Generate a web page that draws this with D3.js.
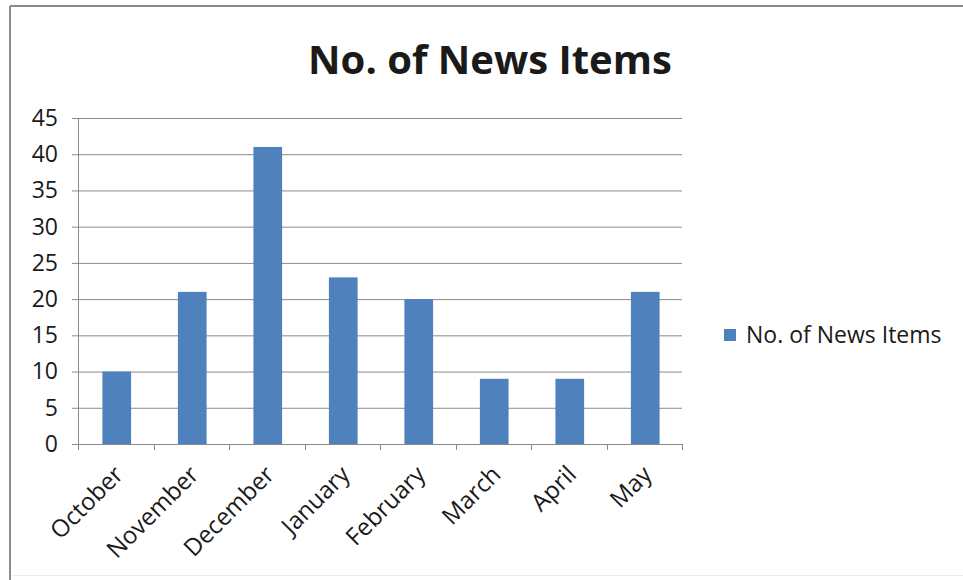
<!DOCTYPE html>
<html>
<head>
<meta charset="utf-8">
<script src="https://cdn.jsdelivr.net/npm/d3@7/dist/d3.min.js"></script>
<style>
  html, body { margin: 0; padding: 0; background: #fff; }
  svg { display: block; }
  text { font-family: "Open Sans", "Liberation Sans", sans-serif; fill: #1a1a1a; }
</style>
</head>
<body>
<svg id="chart" width="963" height="580"></svg>
<script>
// Monthly counts of news items
const months = ["October", "November", "December", "January", "February", "March", "April", "May"];
const newsItems = [10, 21, 41, 23, 20, 9, 9, 21];
const yTicks = [0, 5, 10, 15, 20, 25, 30, 35, 40, 45];
const seriesName = "No. of News Items";
const chartTitle = "No. of News Items";

const W = 963, H = 580;
const plot = { left: 78, right: 682, top: 118, bottom: 444 };
const barColor = "#4F81BD";
const gridColor = "#8a8a8a";

const svg = d3.select("#chart");

// chart frame
svg.append("rect").attr("x", 0).attr("y", 0).attr("width", W).attr("height", H).attr("fill", "#fff");
svg.append("line").attr("x1", 10).attr("x2", 10).attr("y1", 6).attr("y2", H)
  .attr("stroke", "#8c8c8c").attr("stroke-width", 2);
svg.append("line").attr("x1", 10).attr("x2", W).attr("y1", 6).attr("y2", 6)
  .attr("stroke", "#8c8c8c").attr("stroke-width", 2);
svg.append("line").attr("x1", 11).attr("x2", W).attr("y1", 575.5).attr("y2", 575.5)
  .attr("stroke", "#ececec").attr("stroke-width", 1);

const x = d3.scaleBand()
  .domain(months)
  .range([plot.left, plot.right])
  .paddingInner(0.62)
  .paddingOuter(0.31);

const y = d3.scaleLinear()
  .domain([0, 45])
  .range([plot.bottom, plot.top]);

// horizontal gridlines with the y axis
const yAxis = d3.axisLeft(y)
  .tickValues(yTicks)
  .tickSize(6)
  .tickPadding(14)
  .tickFormat(d3.format("d"));

const gy = svg.append("g")
  .attr("transform", `translate(${plot.left},0)`)
  .call(yAxis);
gy.select(".domain").attr("stroke", gridColor).attr("d", `M0.5,${plot.top}V${plot.bottom}`);
gy.selectAll(".tick line").attr("stroke", gridColor).attr("x1", -6).attr("x2", plot.right - plot.left);
gy.selectAll(".tick text")
  .style("font-size", "23px")
  .attr("fill", "#1a1a1a");

// bars
svg.append("g").selectAll("rect")
  .data(months.map((m, i) => ({ m, v: newsItems[i] })))
  .join("rect")
  .attr("x", d => x(d.m) + 1)
  .attr("width", x.bandwidth())
  .attr("y", d => y(d.v))
  .attr("height", d => y(0) - y(d.v))
  .attr("fill", barColor);

// category axis with ticks at band boundaries
const gx = svg.append("g").attr("transform", `translate(0,${plot.bottom})`);
gx.append("line")
  .attr("x1", plot.left - 6).attr("x2", plot.right)
  .attr("y1", 0.5).attr("y2", 0.5)
  .attr("stroke", gridColor);
const step = x.step();
const boundaries = d3.range(months.length + 1).map(i => plot.left + i * step);
gx.selectAll("line.tick")
  .data(boundaries)
  .join("line")
  .attr("class", "tick")
  .attr("x1", d => Math.round(d) + 0.5).attr("x2", d => Math.round(d) + 0.5)
  .attr("y1", 0).attr("y2", 6)
  .attr("stroke", gridColor);
gx.selectAll("text")
  .data(months)
  .join("text")
  .attr("transform", d => `translate(${x(d) + x.bandwidth() / 2 + 9},${32}) rotate(-45)`)
  .attr("text-anchor", "end")
  .style("font-size", "24px")
  .text(d => d);

// title
svg.append("text")
  .attr("x", 490)
  .attr("y", 74)
  .attr("text-anchor", "middle")
  .style("font-size", "40px")
  .style("font-weight", "bold")
  .attr("fill", "#000")
  .text(chartTitle);

// legend
const lg = svg.append("g").attr("transform", "translate(724,335)");
lg.append("rect").attr("x", 0).attr("y", -6).attr("width", 12).attr("height", 12).attr("fill", barColor);
lg.append("text").attr("x", 22).attr("y", 0).attr("dy", "0.35em")
  .style("font-size", "23px")
  .text(seriesName);
</script>
</body>
</html>
